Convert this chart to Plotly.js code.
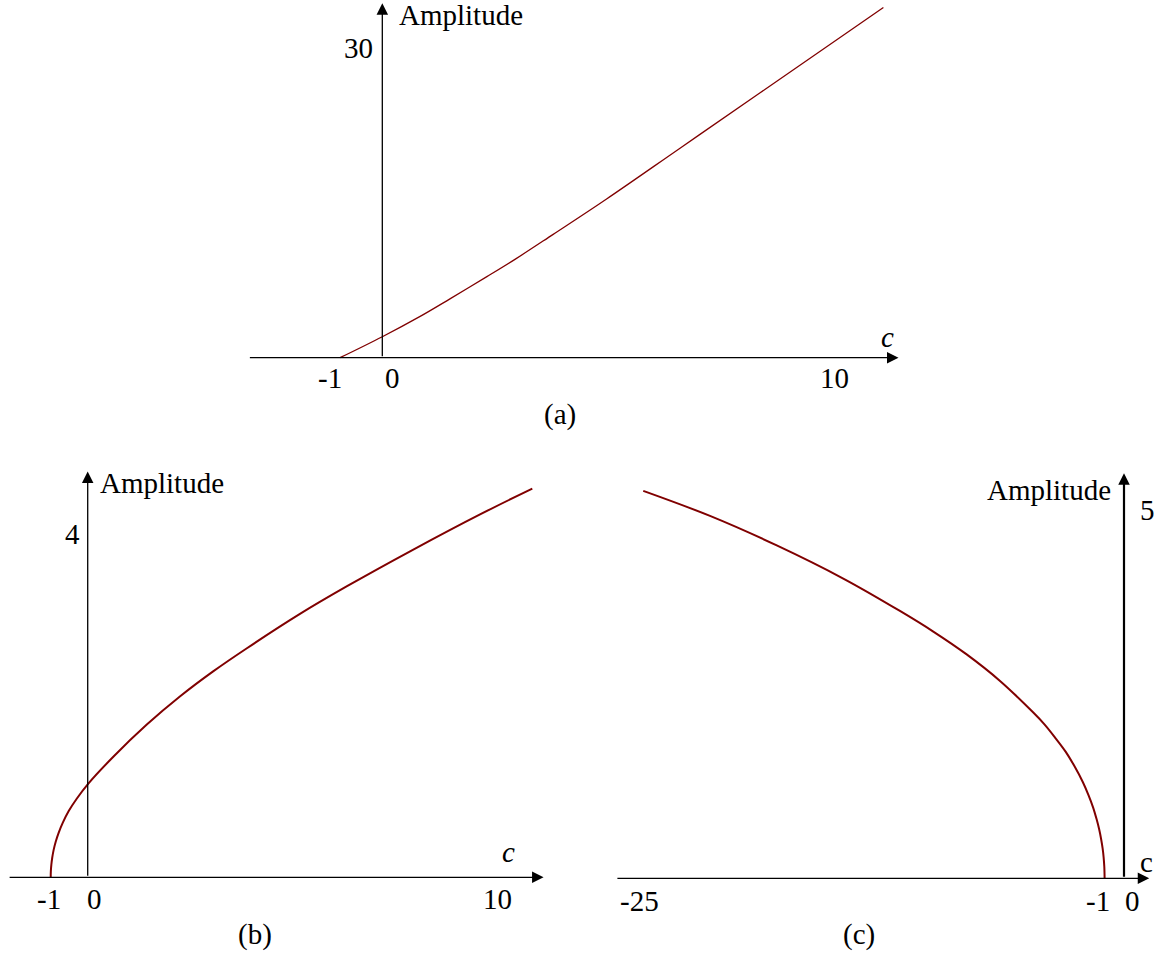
<!DOCTYPE html>
<html>
<head>
<meta charset="utf-8">
<script src="https://cdn.plot.ly/plotly-3.0.1.min.js"></script>
<style>
  html, body { margin: 0; padding: 0; background: #fff; }
  #chart { width: 1162px; height: 956px; }
</style>
</head>
<body>
<div id="chart"></div>
<script>
// panel (a): amplitude against c
const cA = [-0.95, 0, 0.85, 1.52, 2.35, 2.99, 3.84, 5.04, 6.69, 8.49, 11.26];
const ampA = [0, 2.03, 4.0, 5.7, 7.85, 9.55, 11.95, 15.38, 20.3, 25.67, 33.94];

// panel (b)
const cB = [-0.92, -0.917, -0.905, -0.883, -0.846, -0.796, -0.721, -0.622, -0.473, -0.274, 0,
            0.637, 1.47, 2.3, 3.12, 3.96, 5.28, 6.44, 8.1, 9.76, 11.06];
const ampB = [0, 0.072, 0.145, 0.228, 0.323, 0.415, 0.521, 0.634, 0.772, 0.916, 1.084,
              1.405, 1.78, 2.11, 2.40, 2.67, 3.07, 3.39, 3.82, 4.23, 4.53];

// panel (c)
const cC = [-24.78, -21.34, -17.9, -14.47, -11.55, -9.83, -8.11, -6.39, -4.675, -4.1, -3.58, -3.01,
            -2.55, -2.13, -1.83, -1.59, -1.41, -1.28, -1.18, -1.1, -1.05, -1.015, -1.0];
const ampC = [5.26, 4.92, 4.52, 4.07, 3.63, 3.35, 3.04, 2.68, 2.25, 2.09, 1.92, 1.72,
              1.52, 1.31, 1.13, 0.96, 0.8, 0.665, 0.534, 0.403, 0.285, 0.156, 0];

// tick labels
const xTicksA = [-1, 0, 10];
const yTickA = 30;
const xTicksB = [-1, 0, 10];
const yTickB = 4;
const xTicksC = [-25, -1, 0];
const yTickC = 5;

const panelNames = ['(a)', '(b)', '(c)'];
const yTitle = 'Amplitude';

const curveColor = '#800000';
const font = { family: 'Liberation Serif, Times New Roman, serif', size: 29, color: '#000' };

// axis with an arrow head at the end
function arrow(xr, yr, x0, y0, x1, y1, w) {
    return {
        xref: xr, yref: yr, axref: xr, ayref: yr,
        x: x1, y: y1, ax: x0, ay: y0,
        text: '', showarrow: true,
        arrowhead: 2, arrowsize: 2.3 / w, arrowwidth: w,
        arrowcolor: '#000', standoff: 0
    };
}

function label(xr, yr, x, y, text, xanchor, yanchor, xshift, yshift) {
    return {
        xref: xr, yref: yr, x: x, y: y, text: text,
        showarrow: false, xanchor: xanchor, yanchor: yanchor,
        xshift: xshift || 0, yshift: yshift || 0, font: font
    };
}

const traces = [
    { x: cA, y: ampA, xaxis: 'x', yaxis: 'y', type: 'scatter', mode: 'lines',
      line: { color: curveColor, width: 1.3, shape: 'spline', smoothing: 1 } },
    { x: cB, y: ampB, xaxis: 'x2', yaxis: 'y2', type: 'scatter', mode: 'lines',
      line: { color: curveColor, width: 2, shape: 'spline', smoothing: 1 } },
    { x: cC, y: ampC, xaxis: 'x3', yaxis: 'y3', type: 'scatter', mode: 'lines',
      line: { color: curveColor, width: 2, shape: 'spline', smoothing: 1 } }
];

const hidden = { visible: false, showgrid: false, zeroline: false, fixedrange: true };

const annotations = [
    // (a)
    arrow('x', 'y', -3.01, 0, 11.6, 0, 1.3),
    arrow('x', 'y', 0, 0, 0, 34.34, 1.3),
    label('x', 'y', xTicksA[0], 0, String(xTicksA[0]), 'center', 'middle', -7.8, -20),
    label('x', 'y', xTicksA[1], 0, String(xTicksA[1]), 'center', 'middle', 9.7, -20),
    label('x', 'y', xTicksA[2], 0, String(xTicksA[2]), 'center', 'middle', 7.2, -20),
    label('x', 'y', 0, yTickA, String(yTickA), 'right', 'middle', -7, 0),
    label('x', 'y', 0, 33.2, yTitle, 'left', 'middle', 14.7, 0),
    label('x', 'y', 11.36, 2.0, '<i>c</i>', 'center', 'middle'),
    // (b)
    arrow('x2', 'y2', -1.98, 0, 11.34, 0, 1.3),
    arrow('x2', 'y2', 0, 0, 0, 4.73, 1.3),
    label('x2', 'y2', xTicksB[0], 0, String(xTicksB[0]), 'center', 'middle', 1.3, -22),
    label('x2', 'y2', xTicksB[1], 0, String(xTicksB[1]), 'center', 'middle', 6.9, -22),
    label('x2', 'y2', xTicksB[2], 0, String(xTicksB[2]), 'center', 'middle', 7.6, -22),
    label('x2', 'y2', 0, yTickB, String(yTickB), 'right', 'middle', -5.7, 0),
    label('x2', 'y2', 0, 4.60, yTitle, 'left', 'middle', 10.3, 0),
    label('x2', 'y2', 10.48, 0.30, '<i>c</i>', 'center', 'middle'),
    // (c)
    arrow('x3', 'y3', -26.19, 0, 1.30, 0, 1.3),
    arrow('x3', 'y3', 0, 0, 0, 5.50, 2.2),
    label('x3', 'y3', xTicksC[0], 0, String(xTicksC[0]), 'center', 'middle', 0.4, -23),
    label('x3', 'y3', xTicksC[1], 0, String(xTicksC[1]), 'center', 'middle', -6.6, -23),
    label('x3', 'y3', xTicksC[2], 0, String(xTicksC[2]), 'center', 'middle', 9, -23),
    label('x3', 'y3', 0, yTickC, String(yTickC), 'left', 'middle', 14, 0),
    label('x3', 'y3', 0, 5.27, yTitle, 'right', 'middle', -11.3, 0),
    label('x3', 'y3', 1.17, 0.225, 'c', 'center', 'middle'),
    // panel names
    label('paper', 'paper', 0.4819, 0.5659, panelNames[0], 'center', 'middle'),
    label('paper', 'paper', 0.2194, 0.0220, panelNames[1], 'center', 'middle'),
    label('paper', 'paper', 0.7392, 0.0220, panelNames[2], 'center', 'middle')
];

const layout = {
    width: 1162,
    height: 956,
    margin: { l: 0, r: 0, t: 0, b: 0 },
    paper_bgcolor: '#fff',
    plot_bgcolor: 'rgba(0,0,0,0)',
    showlegend: false,
    font: font,
    xaxis: { ...hidden, domain: [0.20654, 0.78313], range: [-3.198, 11.858] },
    yaxis: { ...hidden, domain: [0.61297, 1], range: [-1.196, 34.661] },
    xaxis2: { ...hidden, domain: [0, 0.48193], range: [-2.182, 11.749] },
    yaxis2: { ...hidden, domain: [0.06904, 0.51883], range: [-0.148, 4.864] },
    xaxis3: { ...hidden, domain: [0.51635, 1], range: [-27.01, 1.959] },
    yaxis3: { ...hidden, domain: [0.06904, 0.51883], range: [-0.159, 5.679] },
    annotations: annotations
};

Plotly.newPlot('chart', traces, layout, { displayModeBar: false, staticPlot: true });
</script>
</body>
</html>
